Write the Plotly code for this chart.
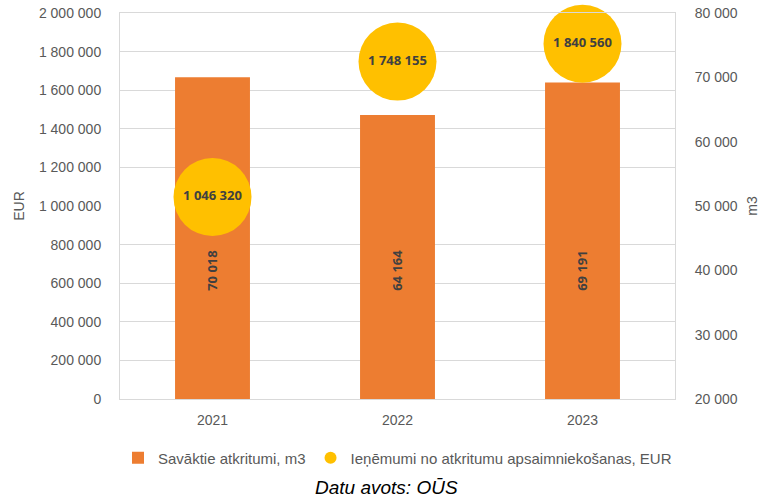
import plotly.graph_objects as go

years = ["2021", "2022", "2023"]
waste_m3 = [70018, 64164, 69191]
revenue_eur = [1046320, 1748155, 1840560]
waste_labels = ["70 018", "64 164", "69 191"]
revenue_labels = ["1 046 320", "1 748 155", "1 840 560"]

FONT = "Liberation Sans Narrow, Arial Narrow, Liberation Sans, sans-serif"
axis_font = dict(family=FONT, size=14, color="#595959")
label_font = dict(family="Open Sans, DejaVu Sans, sans-serif", size=13, color="#404040", weight="bold")

fig = go.Figure()
fig.add_trace(go.Bar(
    x=years, y=waste_m3, name="Savāktie atkritumi, m3",
    marker=dict(color="#ED7D31", line=dict(width=0)),
    width=0.405, xaxis="x", yaxis="y", showlegend=True,
))
fig.add_trace(go.Scatter(
    x=years, y=revenue_eur, name="Ieņēmumi no atkritumu apsaimniekošanas, EUR",
    mode="markers+text", text=revenue_labels, textposition="middle center",
    textfont=label_font, cliponaxis=False,
    marker=dict(color="#FFC000", size=78, line=dict(width=0)),
    xaxis="x", yaxis="y2",
))

for i, lab in enumerate(waste_labels):
    fig.add_annotation(x=i, y=40000, xref="x", yref="y", text=lab, textangle=-90,
                       showarrow=False, font=label_font)

fig.add_annotation(x=0.48, y=-0.228, xref="paper", yref="paper", yanchor="middle",
                   text="<i>Datu avots: OŪS</i>",
                   showarrow=False, font=dict(family=FONT, size=19, color="#000000"))

fig.update_layout(
    width=760, height=499,
    margin=dict(l=120, r=85, t=13, b=100),
    paper_bgcolor="white", plot_bgcolor="white",
    separators=", ",
    xaxis=dict(type="category", showgrid=False, showline=True, linecolor="#D9D9D9", mirror=True,
               tickfont=axis_font, ticks="", range=[-0.5, 2.5], automargin=False,
               ticklabelstandoff=8),
    yaxis=dict(title=dict(text="m3", font=axis_font, standoff=10), range=[20000, 80000], dtick=10000,
               tickformat=",d", tickfont=axis_font, side="right", showgrid=False,
               minor=dict(showgrid=True, tick0=20000, dtick=6000, gridcolor="#D9D9D9", ticks=""),
               showline=True, linecolor="#D9D9D9", zeroline=False, ticklabelstandoff=16,
               automargin=False),
    yaxis2=dict(title=dict(text="EUR", font=axis_font, standoff=11), range=[0, 2000000], dtick=200000,
                tickformat=",d", tickfont=axis_font, side="left", overlaying="y", showgrid=False,
                showline=True, linecolor="#D9D9D9", zeroline=False, ticklabelstandoff=15,
                automargin=False),
    legend=dict(orientation="h", x=0.5, xanchor="center", y=-0.153, yanchor="middle",
                font=dict(family=FONT, size=15, color="#595959"),
                itemsizing="constant", traceorder="normal"),
    showlegend=True,
)

fig.write_html("out.html", config={"displayModeBar": False},
               post_script="document.body.style.margin='0px';")
